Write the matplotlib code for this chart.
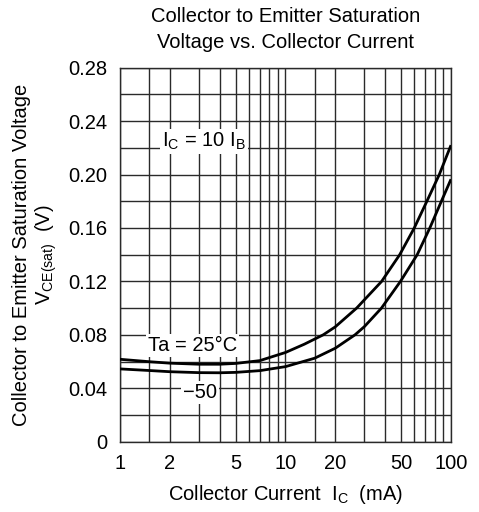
import numpy as np
import matplotlib
matplotlib.use("Agg")
import matplotlib.pyplot as plt
from matplotlib.ticker import FixedLocator, NullFormatter, FixedFormatter

plt.rcParams['font.family'] = ['Liberation Sans', 'DejaVu Sans']
plt.rcParams['mathtext.fontset'] = 'custom'
plt.rcParams['mathtext.rm'] = 'Liberation Sans'
plt.rcParams['mathtext.it'] = 'Liberation Sans'

# Collector current (mA) and saturation voltage (V) for each ambient temperature
ic_25 = [1, 1.5, 2, 3, 4, 5, 7, 10, 13, 16.9, 20, 26.9, 38.1, 49, 60, 71.5, 85, 100]
vce_25 = [0.0617, 0.0599, 0.0588, 0.0580, 0.0580, 0.0586, 0.0607, 0.0668, 0.0730, 0.0800,
          0.0860, 0.1000, 0.1200, 0.1400, 0.1600, 0.1800, 0.2000, 0.2220]

ic_m50 = [1, 1.5, 2, 3, 4, 5, 7, 10, 15, 20, 26.3, 30, 38, 49.5, 62.5, 74.5, 87.5, 100]
vce_m50 = [0.0545, 0.0533, 0.0524, 0.0517, 0.0516, 0.0519, 0.0532, 0.0562, 0.0625, 0.0700,
           0.0800, 0.0862, 0.1000, 0.1200, 0.1400, 0.1600, 0.1800, 0.1965]

x_major = [1, 2, 5, 10, 20, 50, 100]
x_grid = [1, 1.5, 2, 3, 4, 5, 6, 7, 8, 9, 10, 15, 20, 30, 40, 50, 60, 70, 80, 90, 100]
y_ticks = [0, 0.04, 0.08, 0.12, 0.16, 0.20, 0.24, 0.28]
y_tick_labels = ['0', '0.04', '0.08', '0.12', '0.16', '0.20', '0.24', '0.28']
y_grid = np.arange(0, 0.2801, 0.02)

fig = plt.figure(figsize=(4.79, 5.12), dpi=100)
ax = fig.add_axes([0.2505, 0.1373, 0.691, 0.7305])

ax.set_xscale('log')
ax.set_xlim(1, 100)
ax.set_ylim(0, 0.28)

grid_kw = dict(color='#2a2a2a', lw=1.0, zorder=1)
for gx in x_grid:
    ax.axvline(gx, **grid_kw)
for gy in y_grid:
    ax.axhline(gy, **grid_kw)

line_kw = dict(color='black', lw=2.0, zorder=3, solid_joinstyle='round', solid_capstyle='butt')
ax.plot(ic_25, vce_25, **line_kw)
ax.plot(ic_m50, vce_m50, **line_kw)

ax.xaxis.set_major_locator(FixedLocator(x_major))
ax.xaxis.set_major_formatter(FixedFormatter([str(v) for v in x_major]))
ax.xaxis.set_minor_locator(FixedLocator([]))
ax.xaxis.set_minor_formatter(NullFormatter())
ax.set_yticks(y_ticks)
ax.set_yticklabels(y_tick_labels)
ax.tick_params(axis='both', length=0, labelsize=14.5, colors='black')
ax.tick_params(axis='x', pad=9)
ax.tick_params(axis='y', pad=9)

for s in ax.spines.values():
    s.set_color('#2a2a2a')
    s.set_linewidth(1.0)

box = dict(facecolor='white', edgecolor='none', pad=1.5)
ax.text(0.254, 0.802, r'$\mathrm{I_C}$ = 10 $\mathrm{I_B}$', transform=ax.transAxes,
        ha='center', va='center', fontsize=14.5, bbox=box, zorder=4)
ax.text(0.219, 0.256, 'Ta = 25°C', transform=ax.transAxes,
        ha='center', va='center', fontsize=14.5, bbox=box, zorder=4)
ax.text(0.242, 0.131, '\u221250', transform=ax.transAxes,
        ha='center', va='center', fontsize=14.5, bbox=box, zorder=4)

cx = 0.2505 + 0.691 / 2
fig.text(cx, 1 - 17 / 512, 'Collector to Emitter Saturation', ha='center', va='center', fontsize=14.5)
fig.text(cx, 1 - 43 / 512, 'Voltage vs. Collector Current', ha='center', va='center', fontsize=14.5)

fig.text(cx, 1 - 495 / 512, r'Collector Current  $\mathrm{I_C}$  (mA)', ha='center', va='center', fontsize=14.5)

fig.text(22 / 479, 1 - 255 / 512, 'Collector to Emitter Saturation Voltage', rotation=90,
         ha='center', va='center', fontsize=14.5)
fig.text(46 / 479, 1 - 255 / 512, r'$\mathrm{V_{CE(sat)}}$  (V)', rotation=90,
         ha='center', va='center', fontsize=14.5)

fig.savefig('out.png', dpi=100)
